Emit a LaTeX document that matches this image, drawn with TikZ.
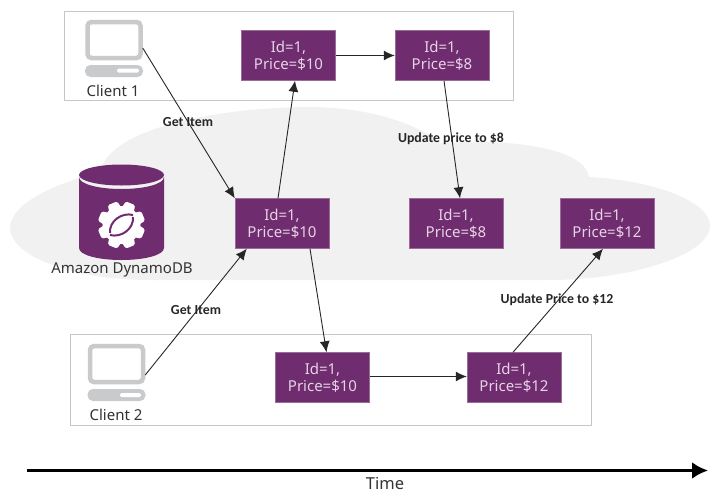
\documentclass[tikz,border=0pt]{standalone}
\usepackage{fontspec}
\setmainfont{Noto Sans}
\newfontfamily\lblfont{Carlito}
\usetikzlibrary{arrows.meta,calc}
\definecolor{dyn}{HTML}{6F2C6E}
\definecolor{dyntext}{HTML}{E6D3E6}
\definecolor{cloudc}{HTML}{F1F1F1}
\definecolor{framec}{HTML}{C6C6C6}
\definecolor{iconc}{HTML}{C8CACC}
\definecolor{inkc}{HTML}{333333}
\tikzset{
  item/.style={draw=dyn!70!white,line width=0.5pt,fill=dyn,text=dyntext,minimum width=94pt,minimum height=50pt,align=center,inner sep=0pt,font=\fontsize{15}{17.5}\selectfont},
  frame/.style={draw=framec,line width=0.9pt,fill=white},
  conn/.style={draw=black!85,line width=0.9pt,-{Latex[length=11pt,width=10pt]}},
  lbl/.style={font=\lblfont\bfseries\fontsize{13.8}{15}\selectfont,text=black!85,inner sep=0pt},
  captext/.style={font=\fontsize{15}{16}\selectfont,text=inkc,inner sep=0pt},
  timetext/.style={font=\fontsize{16.5}{17}\selectfont,text=inkc,inner sep=0pt},
  screen/.style={draw=iconc,line width=4.5pt,rounded corners=4pt,fill=white,minimum width=53pt,minimum height=36pt,inner sep=0pt},
  kbd/.style={fill=iconc,rounded corners=5.5pt,minimum width=58pt,minimum height=12pt,inner sep=0pt}
}
\begin{document}
\begin{tikzpicture}[x=1pt,y=-1pt]
\useasboundingbox (0,0) rectangle (710,493);
% cloud
\fill[cloudc] (10,228) .. controls (10,205) and (50,185) .. (100,172)
  .. controls (110,125) and (230,107) .. (310,107)
  .. controls (370,107) and (420,125) .. (440,143)
  .. controls (520,138) and (585,150) .. (589,177)
  .. controls (650,180) and (710,200) .. (710,226)
  .. controls (710,255) and (630,280) .. (550,280)
  -- (150,280)
  .. controls (70,280) and (10,255) .. (10,228) -- cycle;
% frames
\node[frame,minimum width=449pt,minimum height=89pt,inner sep=0pt] (f1) at (288.5,55.5) {};
\node[frame,minimum width=521pt,minimum height=91pt,inner sep=0pt] (f2) at (330.5,379.5) {};
% client 1
\node[screen] (m1) at (114,40) {};
\node[kbd] (k1) at (114,71) {};
\fill[white,rounded corners=1.5pt] (117,68.5) rectangle (139,72.5);
\node[captext] (c1) at (113,91) {Client 1};
% client 2
\node[screen] (m2) at (116.5,364) {};
\node[kbd] (k2) at (116.5,395) {};
\fill[white,rounded corners=1.5pt] (120,393) rectangle (141,397);
\node[captext] (c2) at (116,415) {Client 2};
% database
\fill[dyn] (79,177) -- (79,248) .. controls (79,255) and (98,260) .. (121.5,260)
  .. controls (145,260) and (164,255) .. (164,248) -- (164,177)
  .. controls (164,184) and (145,189) .. (121.5,189)
  .. controls (98,189) and (79,184) .. (79,177) -- cycle;
\fill[dyn] (121.5,175) ellipse [x radius=42.5pt,y radius=10.5pt];
% gear
\fill[white] (121.5,225) circle [radius=19pt];
\foreach \k in {0,1,...,7}{
  \fill[white,rounded corners=1.5pt,shift={(121.5,225)},rotate=22.5+45*\k]
    (16,-6.5) -- (23.5,-5) -- (23.5,5) -- (16,6.5) -- cycle;
}
\draw[dyn,line width=2pt] (110,233) .. controls (109,221) and (122,212) .. (133,215);
\draw[dyn,line width=2pt] (133,217) .. controls (134,229) and (121,238) .. (110,235);
\node[captext] (ddb) at (122,270) {Amazon DynamoDB};
% items
\node[item] (a) at (288.5,55.5) {Id=1,\\Price=\$10};
\node[item] (b) at (442,55.5) {Id=1,\\Price=\$8};
\node[item] (c) at (282,223.5) {Id=1,\\Price=\$10};
\node[item] (d) at (456,223.5) {Id=1,\\Price=\$8};
\node[item] (e) at (607,223.5) {Id=1,\\Price=\$12};
\node[item] (f) at (322.5,377.5) {Id=1,\\Price=\$10};
\node[item] (g) at (514,377.5) {Id=1,\\Price=\$12};
% connectors
\draw[conn] ($(m1.east)+(0,8)$) -- (c.north west);
\draw[conn] ($(m2.east)+(0,11)$) -- ($(c.south west)+(12,0)$);
\draw[conn] ($(c.north)+(-4,0)$) -- ($(a.south)+(6.5,0)$);
\draw[conn] (a.east) -- (b.west);
\draw[conn] ($(b.south)+(2,0)$) -- ($(d.north)+(4,0)$);
\draw[conn] ($(c.south)+(28,0)$) -- ($(f.north)+(4,0)$);
\draw[conn] ($(f.east)+(0,-1)$) -- ($(g.west)+(0,-1)$);
\draw[conn] ($(g.north)+(-1,0)$) -- ($(e.south)+(-4,0)$);
% labels
\node[lbl] (l1) at (188,122.5) {Get Item};
\node[lbl] (l2) at (196,310.5) {Get Item};
\node[lbl] (l3) at (451,138.5) {Update price to \$8};
\node[lbl] (l4) at (557,299.5) {Update Price to \$12};
% timeline
\coordinate (t0) at (27,470.5);
\coordinate (t1) at (708,470.5);
\draw[black,line width=3.2pt,-{Latex[length=16pt,width=17pt]}] (t0) -- (t1);
\node[timetext] (time) at (385,483) {Time};
\end{tikzpicture}
\end{document}
